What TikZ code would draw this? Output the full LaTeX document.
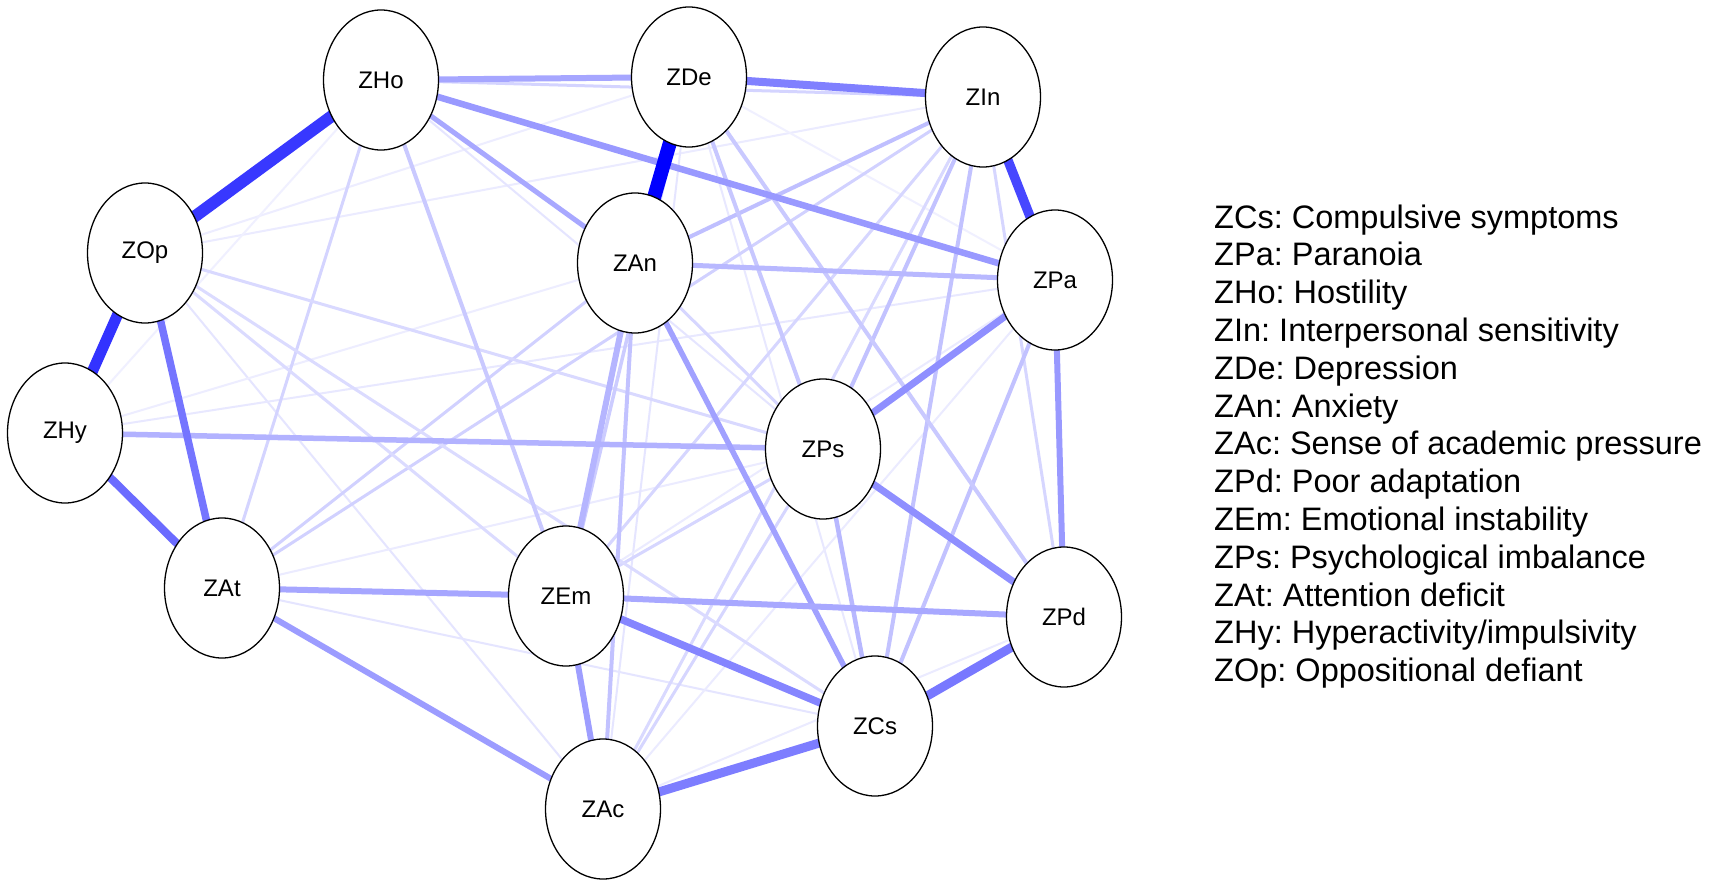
\documentclass[tikz,border=0pt]{standalone}
\usepackage{fontspec}
\setmainfont{Liberation Sans}
\usetikzlibrary{shapes.geometric}
\pgfdeclarelayer{background}
\pgfsetlayers{background,main}
\frenchspacing
\newcommand\edgeline[4]{\draw[line width=#3pt,draw=blue!#4!white] (#1.center) -- (#2.center);}
\begin{document}
\begin{tikzpicture}[x=1pt,y=-1pt,
  nd/.style={ellipse,draw=black,line width=1.3pt,fill=white,minimum width=115pt,minimum height=140pt,inner sep=0pt,font=\fontsize{24}{24}\selectfont},
  lg/.style={anchor=base west,inner sep=0pt,font=\fontsize{32.5}{32.5}\selectfont}]
\useasboundingbox (0,0) rectangle (1713,886);
% nodes
\node[nd] (Ho) at (381,80) {ZHo};
\node[nd] (De) at (689,77) {ZDe};
\node[nd] (In) at (983,97) {ZIn};
\node[nd] (Op) at (145,253) {ZOp};
\node[nd] (An) at (635,263) {ZAn};
\node[nd] (Pa) at (1055,280) {ZPa};
\node[nd] (Hy) at (65,433) {ZHy};
\node[nd] (Ps) at (823,449) {ZPs};
\node[nd] (At) at (222,588) {ZAt};
\node[nd] (Em) at (566,596) {ZEm};
\node[nd] (Pd) at (1064,617) {ZPd};
\node[nd] (Cs) at (875,726) {ZCs};
\node[nd] (Ac) at (603,809) {ZAc};
% edges
\begin{pgfonlayer}{background}
\fill[white] (0,0) rectangle (1713,886);
% faint
\edgeline{Op}{In}{2}{8}
\edgeline{Op}{De}{2}{7}
\edgeline{Op}{Ac}{2}{10}
\edgeline{Hy}{Pa}{2}{9}
\edgeline{Hy}{An}{2}{7}
\edgeline{At}{Cs}{2}{10}
\edgeline{At}{Ps}{2}{8}
\edgeline{De}{Cs}{2}{9}
\edgeline{De}{Ac}{2}{10}
\edgeline{Em}{Pa}{2}{8}
\edgeline{Ac}{Pa}{2}{8}
\edgeline{Ac}{Pd}{2}{8}
\edgeline{Ho}{Hy}{2}{6}
\edgeline{Ho}{Ps}{2}{10}
\edgeline{De}{Pa}{2}{6}
% light
\edgeline{Ho}{In}{3}{17}
\edgeline{Ho}{At}{3}{17}
\edgeline{In}{At}{3}{18}
\edgeline{At}{An}{3}{18}
\edgeline{In}{Em}{3}{16}
\edgeline{In}{Ac}{3}{15}
\edgeline{In}{Pd}{3}{16}
\edgeline{Ac}{Ps}{3}{16}
\edgeline{Em}{Ps}{3}{16}
\edgeline{Op}{Ps}{3}{15}
\edgeline{Op}{Cs}{3}{14}
\edgeline{Op}{Em}{3}{14}
\edgeline{An}{Ps}{3}{16}
\edgeline{De}{Em}{3.5}{20}
% medium light
\edgeline{An}{In}{4}{25}
\edgeline{In}{Ps}{4}{24}
\edgeline{In}{Cs}{4}{24}
\edgeline{Pa}{Cs}{4}{24}
\edgeline{Ps}{Cs}{4.5}{28}
\edgeline{De}{Ps}{4}{22}
\edgeline{De}{Pd}{4}{21}
\edgeline{An}{Ac}{4}{24}
\edgeline{Ho}{Em}{4}{21}
% medium
\edgeline{An}{Em}{6}{29}
\edgeline{An}{Pa}{5}{28}
\edgeline{Hy}{Ps}{5.5}{30}
\edgeline{Ho}{An}{5}{34}
\edgeline{An}{Cs}{5.5}{37}
\edgeline{Em}{Ac}{6}{38}
\edgeline{Em}{Pd}{6}{34}
\edgeline{At}{Ac}{6}{39}
\edgeline{At}{Em}{6}{35}
\edgeline{Pa}{Pd}{6}{40}
\edgeline{Ps}{Pa}{7}{44}
\edgeline{Ps}{Pd}{7}{44}
\edgeline{Ho}{Pa}{6.5}{40}
\edgeline{Ho}{De}{6}{35}
% strong
\edgeline{Em}{Cs}{7.5}{48}
\edgeline{Cs}{Ac}{9}{51}
\edgeline{Cs}{Pd}{9}{53}
\edgeline{De}{In}{8}{50}
\edgeline{Op}{At}{7.5}{54}
\edgeline{Hy}{At}{8}{58}
\edgeline{In}{Pa}{9.5}{72}
\edgeline{Op}{Hy}{11}{80}
\edgeline{Ho}{Op}{12}{78}
\edgeline{De}{An}{14}{100}
\end{pgfonlayer}
% legend
\foreach \t [count=\i from 0] in {ZCs: Compulsive symptoms,ZPa: Paranoia,ZHo: Hostility,ZIn: Interpersonal sensitivity,ZDe: Depression,ZAn: Anxiety,ZAc: Sense of academic pressure,ZPd: Poor adaptation,ZEm: Emotional instability,ZPs: Psychological imbalance,ZAt: Attention deficit,ZHy: Hyperactivity/impulsivity,ZOp: Oppositional defiant}
  \node[lg] (lg\i) at (1214,228+37.8*\i) {\t};
\end{tikzpicture}
\end{document}
